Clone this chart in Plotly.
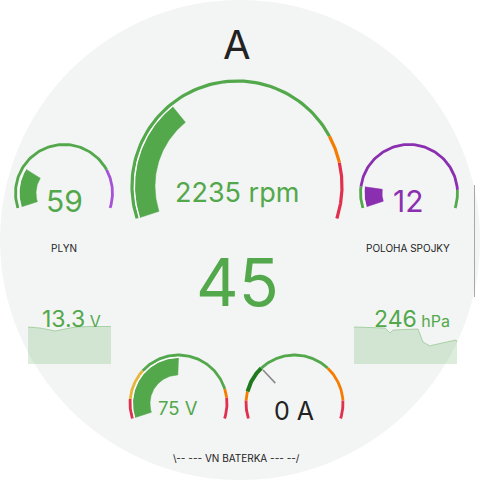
import numpy as np
import plotly.graph_objects as go

# ---------------- data ----------------
title_text = "A"

rpm_value, rpm_min, rpm_max = 2235, 0, 7000
rpm_bands = [(0, 5500, "green"), (5500, 6000, "orange"), (6000, 7000, "red")]

speed_value = 45

plyn_value, plyn_min, plyn_max = 59, 0, 255
plyn_bands = [(0, 200, "green"), (200, 255, "lilac")]

spojka_value, spojka_min, spojka_max = 12, 0, 100
spojka_bands = [(0, 12, "green"), (12, 90, "purple"), (90, 100, "green")]

vn_volt_value, vn_volt_min, vn_volt_max = 75, 50, 100
vn_volt_bands = [(50, 55.4, "red"), (55.4, 64, "amber"), (64, 91.8, "green"),
                 (91.8, 94.3, "orange"), (94.3, 100, "red")]

vn_amp_value, vn_amp_min, vn_amp_max = 0, -30, 70
vn_amp_bands = [(-30, -20, "red"), (-20, -15, "orange"), (-15, 0, "darkgreen"),
                (0, 40, "green"), (40, 60, "orange"), (60, 70, "red")]

lv_volt_value = 13.3
lv_volt_t = [0, 12, 20, 27, 37, 47, 60, 83]
lv_volt_hist = [13.29, 13.27, 13.24, 13.21, 13.25, 13.29, 13.30, 13.30]

press_value = 246
press_t = [0, 31, 36, 39, 64, 69, 76, 79, 102, 103]
press_hist = [261, 260, 255, 258, 259, 246, 242, 243, 248, 246]

labels = {"plyn": "PLYN", "spojka": "POLOHA SPOJKY", "vn": "\\-- --- VN BATERKA --- --/"}

# ---------------- style ----------------
COL = {
    "green": "#52a84b",
    "darkgreen": "#1f7a1f",
    "orange": "#f57c00",
    "red": "#e0304e",
    "amber": "#e8b53a",
    "purple": "#8a2fb0",
    "lilac": "#a552d6",
}
TEXT_DARK = "#222222"
BG = "#f3f4f4"
FONT = "Inter"
START, SWEEP = 198.0, 216.0

fig = go.Figure()


def ang(v, vmin, vmax):
    f = (v - vmin) / (vmax - vmin)
    f = min(max(f, 0), 1)
    return np.radians(START - SWEEP * f)


def arc_xy(cx, cy, r, a0, a1, n=80):
    t = np.linspace(a0, a1, n)
    return cx + r * np.cos(t), cy - r * np.sin(t)


def gauge(cx, cy, r, vmin, vmax, bands, width, value=None, bar_color=None,
          r_out=None, r_in=None, needle=False, thick=None):
    for lo, hi, c in bands:
        x, y = arc_xy(cx, cy, r, ang(lo, vmin, vmax), ang(hi, vmin, vmax))
        w = width
        if thick and c in thick:
            w = thick[c]
        fig.add_trace(go.Scatter(x=x, y=y, mode="lines",
                                 line=dict(color=COL[c], width=w),
                                 hoverinfo="skip", showlegend=False))
    if bar_color is not None:
        a0, a1 = ang(vmin, vmin, vmax), ang(value, vmin, vmax)
        xo, yo = arc_xy(cx, cy, r_out, a0, a1)
        xi, yi = arc_xy(cx, cy, r_in, a1, a0)
        fig.add_trace(go.Scatter(x=np.concatenate([xo, xi, xo[:1]]),
                                 y=np.concatenate([yo, yi, yo[:1]]),
                                 mode="lines", fill="toself",
                                 fillcolor=COL[bar_color],
                                 line=dict(color=COL[bar_color], width=0.5),
                                 hoverinfo="skip", showlegend=False))
        xw, yw = arc_xy(cx, cy, r_out + 0.6, a0, a1)
        fig.add_trace(go.Scatter(x=xw, y=yw, mode="lines",
                                 line=dict(color="white", width=1.1),
                                 hoverinfo="skip", showlegend=False))
    if needle:
        a = ang(value, vmin, vmax)
        fig.add_trace(go.Scatter(x=[cx + r_out * np.cos(a), cx + r_in * np.cos(a)],
                                 y=[cy - r_out * np.sin(a), cy - r_in * np.sin(a)],
                                 mode="lines", line=dict(color="#8a8a8a", width=1.6),
                                 hoverinfo="skip", showlegend=False))


# big rpm gauge
gauge(237, 186, 105, rpm_min, rpm_max, rpm_bands, 3.2, rpm_value, "green", 102, 82)
# PLYN
gauge(64, 193, 48.5, plyn_min, plyn_max, plyn_bands, 2.8, plyn_value, "green", 44.5, 28)
# spojka
gauge(409, 193, 48.5, spojka_min, spojka_max, spojka_bands, 2.8, spojka_value, "purple", 44.5, 27)
# VN voltage
gauge(178.5, 403.5, 48.5, vn_volt_min, vn_volt_max, vn_volt_bands, 2.8, vn_volt_value,
      "green", 45.5, 28.5)
# VN current
gauge(294.5, 403.5, 48.5, vn_amp_min, vn_amp_max, vn_amp_bands, 2.8, vn_amp_value,
      None, 46, 28, needle=True, thick={"darkgreen": 4})

# sparklines
fig.add_trace(go.Scatter(x=lv_volt_t, y=lv_volt_hist, mode="lines", fill="tozeroy",
                         line=dict(color="rgba(82,168,75,0.4)", width=1),
                         fillcolor="rgba(82,168,75,0.2)",
                         xaxis="x2", yaxis="y2", hoverinfo="skip", showlegend=False))
fig.add_trace(go.Scatter(x=press_t, y=press_hist, mode="lines", fill="tozeroy",
                         line=dict(color="rgba(82,168,75,0.4)", width=1),
                         fillcolor="rgba(82,168,75,0.2)",
                         xaxis="x3", yaxis="y3", hoverinfo="skip", showlegend=False))

G = COL["green"]
ann = []


def txt(x, y, s, size, color, xanchor="center"):
    ann.append(dict(x=x, y=y, xref="x", yref="y", text=s, showarrow=False,
                    xanchor=xanchor, yanchor="middle",
                    font=dict(family=FONT, size=size, color=color)))


txt(237, 44, title_text, 40, TEXT_DARK)
txt(237, 192, f"{rpm_value} rpm", 27, G)
txt(237, 282, f"{speed_value}", 66, G)
txt(64, 201, f"{plyn_value}", 30, G)
txt(408, 201, f"{spojka_value}", 30, COL["purple"])
txt(64, 248, labels["plyn"], 10, TEXT_DARK)
txt(408, 248, labels["spojka"], 10, TEXT_DARK)
txt(178, 408, f"{vn_volt_value} V", 18.5, G)
txt(294, 411, f"{vn_amp_value} A", 25, TEXT_DARK)
txt(236, 458, labels["vn"], 10, TEXT_DARK)
txt(40, 319, f"{lv_volt_value}<span style='font-size:16px'> V</span>", 23, G, "left")
txt(372, 319, f"{press_value}<span style='font-size:16px'> hPa</span>", 23, G, "left")

hidden = dict(visible=False, showgrid=False, zeroline=False, fixedrange=True)

fig.update_layout(
    width=480, height=480,
    margin=dict(l=0, r=0, t=0, b=0),
    paper_bgcolor="white", plot_bgcolor="rgba(0,0,0,0)",
    xaxis=dict(range=[0, 480], domain=[0, 1], **hidden),
    yaxis=dict(range=[480, 0], domain=[0, 1], **hidden),
    xaxis2=dict(range=[0, 83], domain=[28 / 480, 111 / 480], anchor="y2", **hidden),
    yaxis2=dict(range=[12.55, 13.47], domain=[(480 - 364) / 480, (480 - 318) / 480],
                anchor="x2", **hidden),
    xaxis3=dict(range=[0, 103], domain=[354 / 480, 457 / 480], anchor="y3", **hidden),
    yaxis3=dict(range=[224, 270], domain=[(480 - 364) / 480, (480 - 318) / 480],
                anchor="x3", **hidden),
    shapes=[dict(type="circle", xref="x", yref="y", x0=0, y0=0, x1=480, y1=480,
                 fillcolor=BG, line=dict(width=0), layer="below"),
            dict(type="line", xref="x", yref="y", x0=474.5, x1=474.5, y0=185, y1=297,
                 line=dict(color="#a8a8a8", width=1), layer="below")],
    annotations=ann,
    showlegend=False,
)

fig.write_html("out.html",
               config={"displayModeBar": False, "staticPlot": True},
               post_script="document.body.style.margin='0px';"
                           "document.body.style.overflow='hidden';")
